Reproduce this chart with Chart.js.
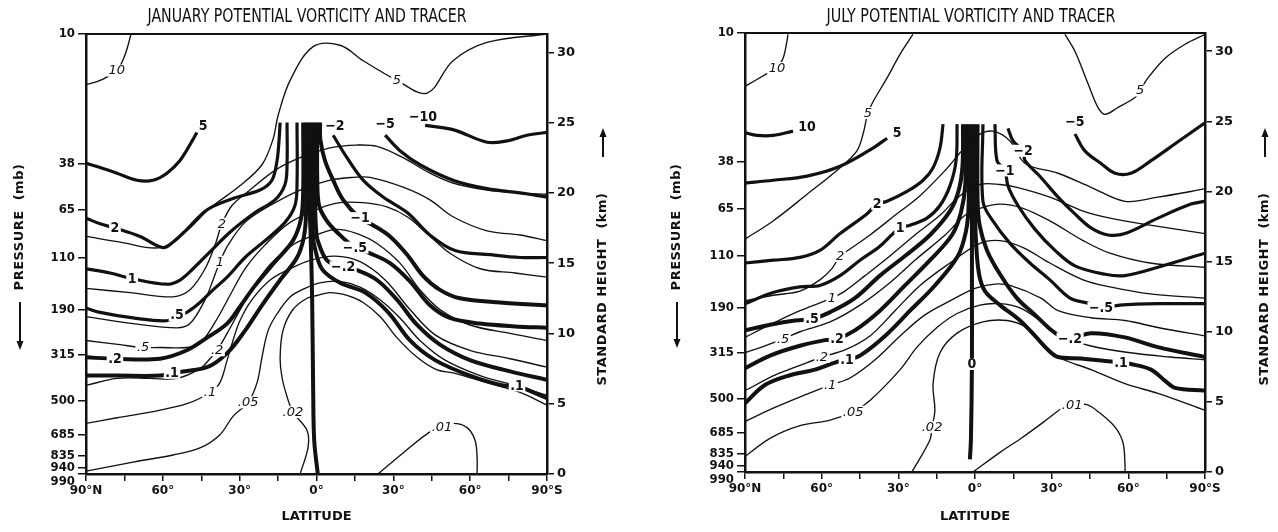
<!DOCTYPE html>
<html lang="en">
<head>
  <meta charset="UTF-8" />
  <title>Potential Vorticity and Tracer</title>
  <script src="https://cdn.jsdelivr.net/npm/chart.js"></script>
  <style>
    body { margin: 0; background: #fff; overflow: hidden; }
    canvas { position: absolute; top: 0; }
  </style>
</head>
<body>
  <canvas id="janChart" width="640" height="532" style="left:0"></canvas>
  <canvas id="julChart" width="638" height="532" style="left:640px"></canvas>

  <script>
    // Axis labels: pressure levels sit at their standard heights (km)
    const pressureLabels = ['10', '38', '65', '110', '190', '315', '500', '685', '835', '940', '990'];
    const pressureKm = [31.3, 22.1, 18.8, 15.4, 11.7, 8.5, 5.2, 2.8, 1.3, 0.45, 0];
    const heightTicks = [0, 5, 10, 15, 20, 25, 30];
    const latTicks = [90, 75, 60, 45, 30, 15, 0, -15, -30, -45, -60, -75, -90];
    const TOP_KM = 31.3;

    // ---- January: tracer contours [latitude, km] ----
    const janTr10 = [[90,27.7],[84.5,28.0],[78,28.7],[74.8,29.8],[72.4,31.3]];
    const janTr5 = [[90,16.9],[76.7,16.5],[61.1,16.1],[51.3,17.2],[41.6,18.9],[29.9,20.5],[21.3,22.0],[17,23.8],[15,25.5],[10.3,28.0],[1.3,30.4],[-9.2,30.5],[-18.2,29.4],[-31.4,28.0],[-43.2,27.1],[-53.3,29.4],[-66.6,30.7],[-90,31.3]];
    const janTr2 = [[90,13.2],[72.8,12.9],[56,12.6],[49.4,13.1],[43.5,14.6],[39.6,16.3],[36.9,17.8],[33,19.1],[26,20.2],[16.2,21.6],[6.4,22.5],[-5.3,23.2],[-15.8,23.4],[-23.6,23.3],[-33.8,22.5],[-44.3,21.4],[-53.3,20.7],[-66.6,20.2],[-79.5,20.0],[-90,19.9]];
    const janTr1 = [[90,11.2],[71.6,10.7],[54.5,10.4],[49.4,10.7],[43.5,12.4],[40.4,13.8],[37.7,15.1],[34.5,16.3],[27.9,17.9],[18.1,19.1],[6.4,20.2],[-5.3,20.9],[-14.3,21.1],[-20.9,21.1],[-33.8,20.4],[-44.3,19.5],[-53.3,18.3],[-66.6,17.3],[-79.5,17.0],[-90,16.6]];
    const janTr05 = [[90,9.5],[76.7,9.2],[67.7,9.0],[61.1,9.0],[50.6,9.0],[45.5,9.3],[39.6,10.8],[33.8,12.7],[27.9,14.6],[20.1,16.3],[10.3,17.9],[-1.3,18.9],[-9.2,19.3],[-18.2,19.3],[-27.5,19.0],[-35.4,18.3],[-43.2,17.1],[-52.1,15.7],[-63.9,14.6],[-77.5,14.3],[-90,14.0]];
    const janTr02 = [[90,6.3],[77.9,6.8],[65,6.8],[54.5,6.8],[45.5,7.5],[41.6,8.2],[38.8,8.8],[34.9,10.0],[31,11.3],[26,12.9],[18.1,14.9],[8.4,16.4],[-1.3,17.1],[-8,17.4],[-15.8,17.1],[-23.6,16.4],[-32.6,15.0],[-40.4,13.1],[-48.2,11.7],[-59.9,10.6],[-75.6,10.0],[-90,9.5]];
    const janTr01 = [[90,3.6],[77.9,4.0],[65,4.4],[50.6,5.0],[41.6,5.8],[37.7,6.5],[34.9,8.1],[32.6,9.5],[29.9,10.9],[25.2,12.4],[18.1,13.8],[10.3,14.6],[2.5,15.2],[-7.2,15.5],[-17,15.1],[-26.8,13.8],[-36.5,11.7],[-46.3,9.9],[-59.9,8.8],[-75.6,8.2],[-90,7.6]];
    const janTr005 = [[90,0.2],[71.6,0.85],[56,1.35],[45.5,1.85],[37.7,2.8],[32.6,4.1],[26.7,5.1],[23.2,6.5],[21.3,8.3],[18.9,10.2],[15.4,11.4],[10.3,12.6],[4.5,13.2],[-1.3,13.6],[-9.2,13.7],[-17,13.3],[-24.8,12.4],[-32.6,11.1],[-40.4,9.5],[-50.2,8.1],[-63.9,7.0],[-77.5,6.3],[-90,5.6]];
    const janTr002 = [[6.4,0],[3.3,1.9],[3.7,3.1],[9.2,4.4],[11.5,5.5],[13.5,6.9],[14.2,8.3],[13.1,10.2],[9.2,11.7],[3.7,12.5],[-0.2,12.7],[-5.3,12.9],[-11.9,12.7],[-18.2,12.2],[-24.8,11.2],[-31.4,9.7],[-39.3,8.3],[-47.1,7.4],[-53.3,7.2],[-66.6,6.5],[-79.5,5.8],[-90,4.9]];
    const janTr001 = [[-24,0],[-33.8,1.5],[-44.3,3.0],[-49,3.3],[-53.3,3.6],[-58.8,3.3],[-61.9,2.4],[-62.7,1.2],[-62.7,0]];

    // ---- January: potential vorticity contours ----
    const janPv5 = [[90,22.1],[84.5,21.8],[77.9,21.4],[70.1,20.9],[63.8,20.9],[58.4,21.4],[53.3,22.3],[48.2,23.8],[46.7,24.3]];
    const janPv2 = [[90,18.2],[84.5,17.8],[78.7,17.5],[68.9,16.9],[59.9,16.1],[56,16.5],[50.6,17.4],[42.7,18.8],[32.6,19.6],[22.1,20.2],[17.4,20.9],[15.4,22.3],[14.6,23.8],[14.2,25.0]];
    const janPv1 = [[90,14.6],[80.6,14.3],[72,13.9],[58.4,13.5],[53.3,13.8],[48.2,14.6],[41.6,15.8],[33.8,17.2],[24,18.6],[16.2,19.5],[12.3,20.6],[11.5,22.0],[11.5,25.0]];
    const janPv05 = [[90,11.8],[84.5,11.5],[71.6,11.1],[58.4,10.9],[54.5,11.3],[50.6,11.5],[45.5,12.2],[40.4,13.1],[34.9,14.0],[27.9,15.4],[20.1,16.6],[12.3,17.9],[8.4,19.1],[7.6,20.7],[7.6,25.0]];
    const janPv02 = [[90,8.3],[78.7,8.2],[61.1,8.2],[50.6,8.8],[42.7,9.7],[34.9,10.7],[29.9,11.9],[24,13.4],[16.2,15.1],[9.2,16.6],[6.0,18.2],[5.2,20.2],[5.2,25.0]];
    const janPv01 = [[90,7.0],[77.9,7.0],[61.1,7.0],[56.4,7.2],[42.7,7.6],[34.9,8.6],[27.9,10.2],[21.3,12.0],[14.2,13.8],[7.6,15.4],[5.0,16.8],[4.1,18.5],[4.1,25.0]];
    const janPv0 = [[3.0,25.0],[2.9,20.0],[2.3,17.0],[1.7,12.4],[1.3,6.0],[0.9,2.4],[-0.5,0]];
    const janPvM01 = [[1.9,25.0],[1.8,19.5],[1.5,17.2],[0.9,16.3],[-2.1,14.6],[-9.2,13.6],[-19,12.9],[-28,11.5],[-36.5,9.5],[-46.3,8.1],[-59.9,7.0],[-72.8,6.3],[-78.3,6.3],[-82.2,6.0],[-90,5.4]];
    const janPvM02 = [[0.8,25.0],[0.6,19.5],[0.2,17.5],[-0.5,16.6],[-4.1,15.2],[-10.4,14.7],[-15.8,14.5],[-23.6,13.8],[-31.4,12.4],[-39.3,10.6],[-48.2,9.2],[-59.9,8.1],[-75.6,7.3],[-90,6.7]];
    const janPvM05 = [[-0.3,25.0],[-0.3,20.9],[-1.0,19.1],[-3.7,18.1],[-8,17.2],[-15,16.1],[-20.9,15.7],[-28.7,15.0],[-36.5,13.7],[-44.3,12.0],[-52.1,11.1],[-63.9,10.7],[-77.5,10.5],[-90,10.4]];
    const janPvM1 = [[-1.4,25.0],[-1.5,23.8],[-3.3,22.3],[-6.5,20.9],[-10.4,19.5],[-17,18.2],[-22.1,17.7],[-28.7,16.9],[-35.4,15.6],[-41.6,14.1],[-48.2,13.1],[-56,12.5],[-71.7,12.2],[-90,12.0]];
    const janPvM2 = [[-6.5,24.1],[-11.9,22.5],[-18.2,20.9],[-26,19.7],[-35.4,18.6],[-44.3,17.0],[-54.1,15.9],[-67.8,15.6],[-79.5,15.4],[-90,15.4]];
    const janPvM5 = [[-26.8,24.1],[-32.6,23.0],[-40.4,22.0],[-53.3,20.9],[-66.6,20.3],[-79.5,20.0],[-90,19.7]];
    const janPvM10 = [[-42.4,24.8],[-53.3,24.5],[-66.6,23.6],[-74.4,23.7],[-82.2,24.1],[-90,24.3]];

    // contour labels: [latitude, km, text, 't' tracer | 'p' vorticity]
    const janLabels = [
      [78, 28.7, '10', 't'], [-31.4, 28.0, '5', 't'], [36.9, 17.8, '2', 't'], [37.7, 15.1, '1', 't'],
      [67.7, 9.0, '.5', 't'], [38.8, 8.8, '.2', 't'], [41.6, 5.8, '.1', 't'], [26.7, 5.1, '.05', 't'],
      [9.2, 4.4, '.02', 't'], [-49, 3.3, '.01', 't'],
      [44.3, 24.8, '5', 'p'], [78.7, 17.5, '2', 'p'], [72, 13.9, '1', 'p'], [54.5, 11.3, '.5', 'p'],
      [78.7, 8.2, '.2', 'p'], [56.4, 7.2, '.1', 'p'], [-7.2, 24.8, '−2', 'p'], [-26.8, 24.9, '−5', 'p'],
      [-41.6, 25.4, '−10', 'p'], [-17, 18.2, '−1', 'p'], [-15, 16.1, '−.5', 'p'], [-10.4, 14.7, '−.2', 'p'],
      [-78.3, 6.3, '.1', 'p']
    ];

    // ---- July: tracer contours ----
    const julTr10 = [[90,27.5],[81.4,28.4],[77.5,28.8],[75.1,29.5],[73.6,30.7],[73.2,31.2]];
    const julTr5a = [[24.3,31.2],[29.3,29.8],[34.4,28.1],[39.9,26.4],[41.9,25.6],[43.8,24.1],[46.2,22.9],[52.8,21.7],[65.7,19.8],[79,17.9],[90,16.6]];
    const julTr5b = [[-35.2,31.2],[-39.1,30.0],[-44.2,27.7],[-48.1,26.0],[-50.9,25.5],[-56,26.0],[-62.6,26.7],[-64.6,27.2],[-67.7,28.1],[-74.4,29.5],[-82.2,30.5],[-90,31.2]];
    const julTr2 = [[90,12.2],[79,12.6],[68.5,12.9],[60.7,13.7],[56,14.5],[52.8,15.4],[48.9,15.9],[41.1,16.9],[31.3,18.3],[21.5,19.7],[11.7,21.5],[5.1,22.9],[-1.1,24.0],[-7,24.3],[-13.7,23.6],[-19.6,22.0],[-32.5,21.3],[-45.4,20.3],[-58.7,19.3],[-71.6,19.6],[-84.5,20.0],[-90,20.2]];
    const julTr1 = [[90,9.6],[80.2,10.5],[68.5,11.5],[56,12.4],[50.9,12.9],[43,14.0],[33.3,15.4],[23.5,16.9],[13.7,18.3],[5.9,19.7],[-1.9,20.5],[-9.8,20.5],[-16.4,20.3],[-29.3,19.6],[-42.3,18.6],[-52.8,18.1],[-68.5,17.6],[-90,17.0]];
    const julTr05 = [[90,8.5],[82.2,9.0],[75.1,9.5],[68.5,10.0],[56.7,10.7],[45,11.9],[33.3,13.5],[23.5,15.1],[11.7,16.9],[3.9,18.3],[-1.9,18.8],[-9.8,19.1],[-18.8,18.8],[-29.3,17.9],[-42.3,16.5],[-52.8,15.6],[-68.5,14.9],[-90,14.6]];
    const julTr02 = [[90,5.8],[78.3,6.9],[68.5,7.6],[59.9,8.2],[50.9,8.7],[41.1,9.7],[31.3,11.5],[21.5,13.3],[9.8,14.9],[-1.9,16.3],[-9.8,16.5],[-18.8,16.0],[-29.3,14.9],[-42.3,13.7],[-52.8,13.2],[-68.5,12.7],[-90,12.4]];
    const julTr01 = [[90,3.6],[78.3,4.6],[66.5,5.5],[56.7,6.2],[48.9,6.7],[39.1,8.0],[29.3,9.7],[19.6,11.2],[9.8,12.2],[0,13.1],[-7.8,13.4],[-13.7,13.3],[-25.8,12.4],[-32.5,11.5],[-45.4,11.0],[-58.7,10.8],[-71.6,10.3],[-90,9.7]];
    const julTr005 = [[90,1.1],[80.2,2.4],[68.5,3.3],[56.7,3.7],[47.7,4.3],[41.1,5.1],[29.3,7.3],[22.7,8.9],[14.9,10.3],[7,11.3],[-1.9,11.9],[-9.8,12.0],[-17.6,11.7],[-25.4,10.8],[-33.3,9.7],[-45,9.0],[-60.7,8.5],[-76.3,8.2],[-90,8.0]];
    const julTr002 = [[24.7,0],[17.6,2.3],[16.8,3.2],[15.7,4.4],[16.4,6.3],[13.7,8.5],[7,9.9],[-3.1,10.7],[-12.5,10.8],[-20.3,10.3],[-26.6,9.2],[-32.5,8.2],[-45.4,7.3],[-58.7,6.3],[-71.6,5.6],[-90,4.4]];
    const julTr001 = [[0.8,0],[-9.8,1.4],[-18.8,2.5],[-29.3,3.9],[-34.4,4.6],[-38,4.8],[-43.8,4.8],[-48.9,4.2],[-54.8,3.2],[-57.9,2.1],[-58.7,0.5],[-58.7,0]];

    // ---- July: potential vorticity contours ----
    const julPv10 = [[90,24.2],[85.3,24.0],[79,24.0],[71.2,24.3]];
    const julPv5 = [[90,20.6],[79,20.8],[65.7,21.1],[52.8,21.8],[39.9,23.1],[34.4,23.8]];
    const julPv2 = [[90,14.9],[79,15.1],[68.5,15.3],[60.7,15.8],[52.8,17.0],[42.3,18.4],[38.3,19.1],[34.4,19.3],[26.6,20.0],[20.3,20.8],[16.4,21.7],[13.7,23.1],[12.5,24.8]];
    const julPv1 = [[90,12.0],[79,12.8],[68.5,13.2],[60.7,13.3],[52.8,14.0],[45,15.1],[37.2,16.1],[32.1,17.0],[29.3,17.4],[25.4,17.6],[18.8,18.1],[13.7,19.0],[9.8,20.4],[7.4,22.2],[7,24.8]];
    const julPv05 = [[90,10.1],[80.2,10.5],[70.4,10.8],[63.8,10.9],[56.7,11.4],[47,12.4],[37.2,14.0],[27.4,15.4],[17.6,16.9],[9.8,18.6],[6.5,20.0],[4.9,21.8],[4.7,24.8]];
    const julPv02 = [[90,7.4],[80.2,8.3],[68.5,9.0],[58.7,9.4],[54,9.5],[47,10.1],[37.2,11.5],[27.4,13.3],[17.6,15.1],[9,16.9],[5.5,18.5],[3.8,20.5],[3.6,24.8]];
    const julPv01 = [[90,4.9],[82.2,6.2],[72.4,6.9],[62.6,7.3],[54.8,7.8],[50.1,8.0],[45,8.3],[35.2,9.7],[25.4,11.5],[15.7,13.3],[6.7,15.4],[3.5,17.2],[2.5,19.0],[2.4,24.8]];
    const julPv0 = [[1.2,24.8],[1.2,17.2],[1.2,12.9],[1.2,7.7],[1.6,2.3],[2,0.9]];
    const julPvM01 = [[0.1,24.8],[0,19.0],[-0.3,16.8],[-1.5,14.2],[-3.9,12.9],[-9.8,11.9],[-17.6,10.8],[-23.5,9.7],[-28.6,8.7],[-32.5,8.2],[-41.5,8.1],[-57.1,7.8],[-61,7.7],[-68.9,7.3],[-74.4,6.5],[-78.3,6.0],[-90,5.8]];
    const julPvM02 = [[-1.0,24.8],[-1.0,19.5],[-1.8,17.6],[-4.7,15.8],[-9.8,14.1],[-16.4,12.4],[-23.5,11.2],[-29.3,10.2],[-33.3,9.7],[-37.2,9.5],[-45.4,9.9],[-58.7,9.6],[-71.6,8.9],[-90,8.2]];
    const julPvM05 = [[-3.1,24.8],[-3.1,19.3],[-7,17.9],[-13.7,16.3],[-21.5,14.9],[-29.3,13.7],[-37.2,12.4],[-45,12.0],[-49.3,11.7],[-56.7,11.9],[-72.4,12.0],[-90,12.0]];
    const julPvM1 = [[-7.8,24.8],[-8.6,22.2],[-11.7,21.5],[-12.9,20.4],[-16.8,19.0],[-23.5,17.3],[-31.3,15.8],[-39.1,14.7],[-50.9,14.1],[-58.7,14.0],[-71.6,14.6],[-90,15.6]];
    const julPvM2 = [[-12.9,24.5],[-14.9,23.6],[-18.8,22.9],[-19.6,22.2],[-25.8,21.0],[-32.5,19.6],[-39.1,18.4],[-45.4,17.4],[-52,16.9],[-58.7,17.0],[-71.6,18.1],[-84.5,19.1],[-90,19.3]];
    const julPvM5 = [[-39.1,24.1],[-43,22.9],[-49.3,22.0],[-54.8,21.3],[-61,21.3],[-68.9,22.2],[-78.3,23.4],[-90,24.9]];

    const julLabels = [
      [77.5, 28.8, '10', 't'], [41.9, 25.6, '5', 't'], [-64.6, 27.2, '5', 't'], [52.8, 15.4, '2', 't'],
      [56, 12.4, '1', 't'], [75.1, 9.5, '.5', 't'], [59.9, 8.2, '.2', 't'], [56.7, 6.2, '.1', 't'],
      [47.7, 4.3, '.05', 't'], [16.8, 3.2, '.02', 't'], [-38, 4.8, '.01', 't'],
      [65.7, 24.6, '10', 'p'], [30.5, 24.2, '5', 'p'], [38.3, 19.1, '2', 'p'], [29.3, 17.4, '1', 'p'],
      [63.8, 10.9, '.5', 'p'], [54, 9.5, '.2', 'p'], [50.1, 8.0, '.1', 'p'], [1.2, 7.7, '0', 'p'],
      [-39.1, 25.0, '−5', 'p'], [-18.8, 22.9, '−2', 'p'], [-11.7, 21.5, '−1', 'p'], [-49.3, 11.7, '−.5', 'p'],
      [-37.2, 9.5, '−.2', 'p'], [-57.1, 7.8, '.1', 'p']
    ];

    const INK = '#111';
    const SANS = '"DejaVu Sans", "Liberation Sans", sans-serif';
    const NARROW = '"Liberation Sans Narrow", "DejaVu Sans Condensed", "Liberation Sans", sans-serif';

    function latLabel(v) {
      if (v % 30 !== 0) return '';
      if (v === 90) return '90°N';
      if (v === -90) return '90°S';
      return Math.abs(v) + '°';
    }

    function contour(pts, width) {
      return {
        data: pts.map(([x, y]) => ({ x, y })),
        showLine: true,
        borderColor: INK,
        borderWidth: width,
        pointRadius: 0,
        pointHitRadius: 0,
        tension: 0.35,
        borderJoinStyle: 'round',
        borderCapStyle: 'butt'
      };
    }

    function arrow(ctx, x, from, to) {
      const d = Math.sign(to - from);
      ctx.lineWidth = 2;
      ctx.beginPath();
      ctx.moveTo(x, from);
      ctx.lineTo(x, to - d * 6);
      ctx.stroke();
      ctx.beginPath();
      ctx.moveTo(x, to);
      ctx.lineTo(x - 3.5, to - d * 9);
      ctx.lineTo(x + 3.5, to - d * 9);
      ctx.closePath();
      ctx.fill();
    }

    // title, contour labels on white patches, plot frame and the two side titles
    function decor(title, labels, geo) {
      return {
        id: 'decor',
        afterDraw(chart) {
          const { ctx, chartArea: a, scales: { x, y } } = chart;
          ctx.save();
          ctx.fillStyle = INK;
          ctx.textAlign = 'center';
          ctx.textBaseline = 'middle';

          // condensed title squeezed to its printed width
          ctx.font = '19px ' + NARROW;
          const tw = ctx.measureText(title).width;
          ctx.save();
          ctx.translate(geo.titleX, 17);
          ctx.scale(geo.titleW / tw, 1);
          ctx.fillText(title, 0, 0);
          ctx.restore();

          labels.forEach(([lat, km, text, kind]) => {
            const px = x.getPixelForValue(lat);
            const py = y.getPixelForValue(km);
            ctx.font = kind === 'p' ? 'bold 14px ' + NARROW : 'italic 13px ' + SANS;
            const w = ctx.measureText(text).width;
            ctx.fillStyle = '#fff';
            ctx.fillRect(px - w / 2 - 1.5, py - 6, w + 3, 12);
            ctx.fillStyle = INK;
            ctx.fillText(text, px, py + 0.5);
          });

          ctx.strokeStyle = INK;
          ctx.lineWidth = 2;
          ctx.strokeRect(a.left, a.top, a.right - a.left, a.bottom - a.top);

          ctx.font = 'bold 13px ' + SANS;
          ctx.letterSpacing = '0.5px';
          ctx.save();
          ctx.translate(geo.pressX, geo.pressY);
          ctx.rotate(-Math.PI / 2);
          ctx.fillText('PRESSURE  (mb)', 0, 0);
          ctx.restore();
          ctx.save();
          ctx.translate(geo.hgtX, geo.hgtY);
          ctx.rotate(-Math.PI / 2);
          ctx.fillText('STANDARD HEIGHT  (km)', 0, 0);
          ctx.restore();
          arrow(ctx, geo.pressX, geo.pressArrow[0], geo.pressArrow[1]);
          arrow(ctx, geo.hgtX, geo.hgtArrow[0], geo.hgtArrow[1]);
          ctx.restore();
        }
      };
    }

    // tracers thin, vorticity thick; the near-zero vorticity lines packed at
    // the equator are drawn a little heavier so the bundle reads as solid
    function buildChart(id, title, tracers, pvs, cores, labels, geo) {
      const datasets = [
        ...tracers.map(p => contour(p, 1.35)),
        ...pvs.map(p => contour(p, 3.2)),
        ...cores.map(p => contour(p, 4))
      ];
      const tickGrid = len => ({ drawOnChartArea: false, tickLength: len, color: INK, lineWidth: 1.5 });
      return new Chart(document.getElementById(id), {
        type: 'scatter',
        data: { datasets },
        options: {
          responsive: false,
          animation: false,
          events: [],
          layout: { padding: { top: geo.top } },
          plugins: {
            legend: { display: false },
            tooltip: { enabled: false }
          },
          scales: {
            x: {
              type: 'linear', min: -90, max: 90, reverse: true,
              afterBuildTicks: s => { s.ticks = latTicks.map(v => ({ value: v })); },
              afterFit: s => { s.height = geo.bottom; },
              ticks: {
                autoSkip: false, maxRotation: 0, padding: 3, color: INK,
                font: { family: SANS, size: 12, weight: 'bold' },
                callback: v => latLabel(v)
              },
              grid: tickGrid(7),
              border: { color: INK, width: 2.5 },
              title: {
                display: true, text: 'LATITUDE', color: INK,
                font: { family: SANS, size: 13, weight: 'bold' },
                padding: { top: 4, bottom: 8 }
              }
            },
            y: {
              position: 'left', min: 0, max: TOP_KM,
              afterBuildTicks: s => { s.ticks = pressureKm.map(v => ({ value: v })); },
              afterFit: s => { s.width = geo.left; },
              ticks: {
                autoSkip: false, padding: 3, color: INK,
                font: { family: NARROW, size: 13, weight: 'bold', lineHeight: 1.1 },
                callback: (v, i) => i === pressureLabels.length - 1 ? ['', pressureLabels[i]] : pressureLabels[i]
              },
              grid: tickGrid(8),
              border: { color: INK, width: 2.5 }
            },
            y2: {
              position: 'right', min: 0, max: TOP_KM,
              afterBuildTicks: s => { s.ticks = heightTicks.map(v => ({ value: v })); },
              afterFit: s => { s.width = geo.right; },
              ticks: {
                autoSkip: false, padding: 3, color: INK,
                font: { family: SANS, size: 13, weight: 'bold' },
                callback: v => String(v)
              },
              grid: tickGrid(7),
              border: { color: INK, width: 2.5 }
            }
          }
        },
        plugins: [decor(title, labels, geo)]
      });
    }

    buildChart('janChart', 'JANUARY POTENTIAL VORTICITY AND TRACER',
      [janTr10, janTr5, janTr2, janTr1, janTr05, janTr02, janTr01, janTr005, janTr002, janTr001],
      [janPv5, janPv2, janPv1, janPv05, janPvM2, janPvM5, janPvM10],
      [janPv02, janPv01, janPv0, janPvM01, janPvM02, janPvM05, janPvM1],
      janLabels,
      { left: 86, right: 93, top: 34, bottom: 58, titleX: 307, titleW: 319,
        pressX: 20, pressY: 227, pressArrow: [302, 350],
        hgtX: 603, hgtY: 289, hgtArrow: [157, 128] });

    buildChart('julChart', 'JULY POTENTIAL VORTICITY AND TRACER',
      [julTr10, julTr5a, julTr5b, julTr2, julTr1, julTr05, julTr02, julTr01, julTr005, julTr002, julTr001],
      [julPv10, julPv5, julPv2, julPv1, julPvM05, julPvM1, julPvM2, julPvM5],
      [julPv05, julPv02, julPv01, julPv0, julPvM01, julPvM02],
      julLabels,
      { left: 105, right: 73, top: 33, bottom: 60, titleX: 331, titleW: 289,
        pressX: 37, pressY: 227, pressArrow: [302, 348],
        hgtX: 625, hgtY: 289, hgtArrow: [157, 128] });
  </script>
</body>
</html>
